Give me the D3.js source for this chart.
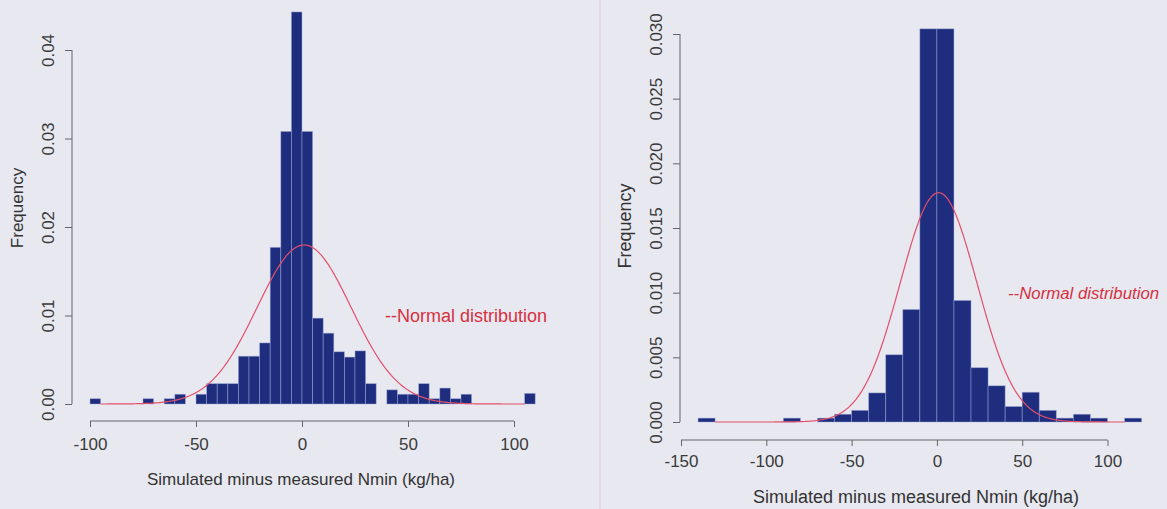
<!DOCTYPE html>
<html lang="en">
<head>
<meta charset="UTF-8">
<title>Simulated minus measured Nmin</title>
<script src="https://d3js.org/d3.v7.min.js"></script>
<style>
    body { margin: 0; background: #e7e8f0; }
    svg { display: block; font-family: "Liberation Sans", Arial, sans-serif; }
    .tick text { fill: #3a3a3a; }
</style>
</head>
<body>
<svg id="chart" width="1167" height="509"></svg>
<script>
// left histogram: [bin start, density], bin width 5
const leftBins = [
    [-100, 0.0006], [-75, 0.0006], [-65, 0.0006], [-60, 0.0011],
    [-50, 0.0011], [-45, 0.0023], [-40, 0.0023], [-35, 0.0023],
    [-30, 0.0054], [-25, 0.0054], [-20, 0.0069], [-15, 0.0177],
    [-10, 0.0308], [-5, 0.0443], [0, 0.0308], [5, 0.0097],
    [10, 0.0080], [15, 0.0059], [20, 0.0053], [25, 0.0060],
    [30, 0.0023], [40, 0.0016], [45, 0.0011], [50, 0.0011],
    [55, 0.0023], [60, 0.0006], [65, 0.0018], [70, 0.0006],
    [75, 0.0011], [105, 0.0012]
];
const leftBinWidth = 5;
const leftXTicks = [-100, -50, 0, 50, 100];
const leftYTicks = [0, 0.01, 0.02, 0.03, 0.04];
const leftNormal = { mean: 1, sd: 22.2, from: -95, to: 105 };

// right histogram: [bin start, density], bin width 10
const rightBins = [
    [-140, 0.0003], [-90, 0.0003], [-70, 0.0003], [-60, 0.0006],
    [-50, 0.0009], [-40, 0.00225], [-30, 0.0052], [-20, 0.0087],
    [-10, 0.0304], [0, 0.0304], [10, 0.0094], [20, 0.0042],
    [30, 0.0028], [40, 0.0012], [50, 0.0023], [60, 0.0009],
    [70, 0.0003], [80, 0.0006], [90, 0.0003], [110, 0.0003]
];
const rightBinWidth = 10;
const rightXTicks = [-150, -100, -50, 0, 50, 100];
const rightYTicks = [0, 0.005, 0.010, 0.015, 0.020, 0.025, 0.030];
const rightNormal = { mean: 1, sd: 22.5, from: -130, to: 110 };

const xTitle = "Simulated minus measured Nmin (kg/ha)";
const yTitle = "Frequency";
const curveLabel = "--Normal distribution";

const svg = d3.select("#chart");

// faint fold line of the scanned page
svg.append("line")
    .attr("x1", 600).attr("x2", 600).attr("y1", 0).attr("y2", 509)
    .attr("stroke", "#e6d2dc").attr("stroke-width", 1.5);

// plain hyphen instead of the unicode minus d3 uses
const hyphen = f => v => f(v).replace("\u2212", "-");

function drawPanel(p) {
    const x = d3.scaleLinear().domain(p.xDomain).range(p.xRange);
    const y = d3.scaleLinear().domain(p.yDomain).range(p.yRange);
    const g = svg.append("g");

    g.selectAll("rect.bar")
        .data(p.bins)
        .join("rect")
        .attr("class", "bar")
        .attr("x", d => x(d[0]))
        .attr("width", d => x(d[0] + p.binWidth) - x(d[0]))
        .attr("y", d => y(d[1]))
        .attr("height", d => y(0) - y(d[1]))
        .attr("fill", "#1e2d7e")
        .attr("stroke", "rgba(165,175,220,0.55)")
        .attr("stroke-width", 0.8);

    // fitted normal curve
    const n = p.normal;
    const pts = d3.range(n.from, n.to + 0.01, 0.5).map(v =>
        [v, Math.exp(-((v - n.mean) ** 2) / (2 * n.sd * n.sd)) / (n.sd * Math.sqrt(2 * Math.PI))]);
    g.append("path")
        .datum(pts)
        .attr("fill", "none")
        .attr("stroke", "#e2506a")
        .attr("stroke-width", 1.2)
        .attr("d", d3.line().x(d => x(d[0])).y(d => y(d[1])));

    // x axis, offset below the plot like R
    const xa = g.append("g")
        .attr("transform", `translate(0,${p.xAxisY})`)
        .call(d3.axisBottom(x).tickValues(p.xTicks).tickSize(6).tickPadding(p.xPad)
            .tickFormat(hyphen(d3.format("d"))));
    // y axis
    const ya = g.append("g")
        .attr("transform", `translate(${p.yAxisX},0)`)
        .call(d3.axisLeft(y).tickValues(p.yTicks).tickSize(7)
            .tickFormat(d3.format(p.yFormat)));
    [xa, ya].forEach(a => {
        a.select(".domain").remove();
        a.selectAll(".tick line").attr("stroke", "#666");
        a.selectAll("text").style("font-size", p.tickSize + "px").attr("fill", "#3a3a3a");
    });
    xa.append("line").attr("x1", x(p.xTicks[0])).attr("x2", x(p.xTicks[p.xTicks.length - 1]))
        .attr("stroke", "#666");
    ya.append("line").attr("y1", y(p.yTicks[0])).attr("y2", y(p.yTicks[p.yTicks.length - 1]))
        .attr("stroke", "#666");

    // rotated y tick labels (R style)
    ya.selectAll(".tick text")
        .attr("x", null)
        .attr("text-anchor", "middle")
        .attr("transform", `translate(${p.yLabelX - p.yAxisX},0) rotate(-90)`)
        .attr("dy", "0.35em");

    g.append("text")
        .attr("transform", `translate(${p.yTitlePos[0]},${p.yTitlePos[1]}) rotate(-90)`)
        .attr("text-anchor", "middle").attr("dy", "0.35em")
        .style("font-size", p.titleSize + "px").attr("fill", "#333")
        .text(yTitle);

    g.append("text")
        .attr("x", p.xTitlePos[0]).attr("y", p.xTitlePos[1])
        .attr("text-anchor", "middle").attr("dy", "0.35em")
        .style("font-size", p.titleSize + "px").attr("fill", "#333")
        .text(xTitle);

    g.append("text")
        .attr("x", p.labelPos[0]).attr("y", p.labelPos[1])
        .attr("dy", "0.35em")
        .style("font-size", p.labelSize + "px")
        .style("font-style", p.labelItalic ? "italic" : "normal")
        .attr("fill", "#d8303f")
        .text(curveLabel);
}

drawPanel({
    bins: leftBins, binWidth: leftBinWidth, normal: leftNormal,
    xDomain: [-100, 100], xRange: [90, 514],
    yDomain: [0, 0.04], yRange: [404, 50],
    xTicks: leftXTicks, yTicks: leftYTicks, yFormat: ".2f",
    xAxisY: 421, xPad: 11, yAxisX: 72, yLabelX: 48, tickSize: 17,
    yTitlePos: [17, 208], xTitlePos: [301, 479], titleSize: 17,
    labelPos: [385, 316], labelSize: 18, labelItalic: false
});

drawPanel({
    bins: rightBins, binWidth: rightBinWidth, normal: rightNormal,
    xDomain: [-150, 100], xRange: [681, 1107.5],
    yDomain: [0, 0.03], yRange: [422, 34],
    xTicks: rightXTicks, yTicks: rightYTicks, yFormat: ".3f",
    xAxisY: 440, xPad: 9, yAxisX: 680, yLabelX: 656, tickSize: 17,
    yTitlePos: [625, 226], xTitlePos: [916, 497], titleSize: 18,
    labelPos: [1008, 293], labelSize: 16.8, labelItalic: true
});
</script>
</body>
</html>
